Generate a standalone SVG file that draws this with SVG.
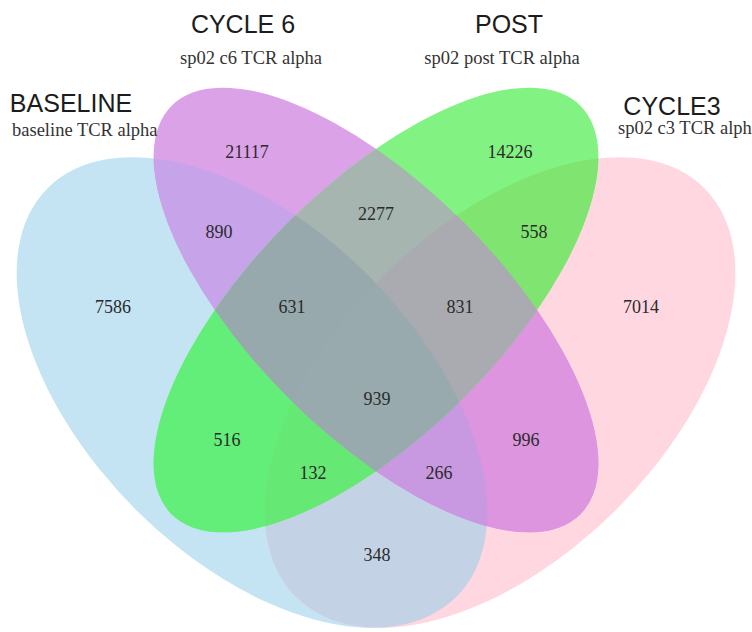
<svg xmlns="http://www.w3.org/2000/svg" xmlns:xlink="http://www.w3.org/1999/xlink" width="752" height="632" viewBox="0 0 752 632">
<style>
.num{font-family:"Liberation Serif","Times New Roman",serif;font-size:18px;fill:#2b2b2b;text-anchor:middle}
.title{font-family:"Liberation Sans",Arial,sans-serif;font-size:25px;fill:#1c1c1c;text-anchor:middle}
.sub{font-family:"Liberation Serif","Times New Roman",serif;font-size:18.5px;fill:#333}
</style>
<defs>
<ellipse id="eA" cx="252" cy="392.5" rx="289" ry="165" transform="rotate(45 252 392.5)"/>
<ellipse id="eB" cx="376" cy="310" rx="289" ry="124" transform="rotate(45 376 310)"/>
<ellipse id="eC" cx="376" cy="310" rx="289" ry="124" transform="rotate(-45 376 310)"/>
<ellipse id="eD" cx="500" cy="392.5" rx="289" ry="165" transform="rotate(-45 500 392.5)"/>
<clipPath id="cA"><use xlink:href="#eA"/></clipPath>
<clipPath id="cB"><use xlink:href="#eB"/></clipPath>
<clipPath id="cD"><use xlink:href="#eD"/></clipPath>
</defs>
<rect width="752" height="632" fill="#ffffff"/>
<g id="set-baseline">
<use xlink:href="#eA" fill="#C4E4F3"/>
</g>
<g id="set-cycle3">
<use xlink:href="#eD" fill="#FFD7E1"/>
<g clip-path="url(#cA)"><use xlink:href="#eD" fill="#C3D3E5"/></g>
</g>
<g id="set-cycle6">
<use xlink:href="#eB" fill="#DBA2E8"/>
<g clip-path="url(#cA)"><use xlink:href="#eB" fill="#C7A3EA"/></g>
<g clip-path="url(#cD)"><use xlink:href="#eB" fill="#DC95DE"/></g>
<g clip-path="url(#cA)"><g clip-path="url(#cD)"><use xlink:href="#eB" fill="#C898E0"/></g></g>
</g>
<g id="set-post">
<use xlink:href="#eC" fill="#82F282"/>
<g clip-path="url(#cA)"><use xlink:href="#eC" fill="#63EE7A"/></g>
<g clip-path="url(#cD)"><use xlink:href="#eC" fill="#7FE570"/></g>
<g clip-path="url(#cA)"><g clip-path="url(#cD)"><use xlink:href="#eC" fill="#66E874"/></g></g>
<g clip-path="url(#cB)"><use xlink:href="#eC" fill="#A6B5AF"/></g>
<g clip-path="url(#cB)"><g clip-path="url(#cA)"><use xlink:href="#eC" fill="#97A9AC"/></g></g>
<g clip-path="url(#cB)"><g clip-path="url(#cD)"><use xlink:href="#eC" fill="#AAABB0"/></g></g>
<g clip-path="url(#cB)"><g clip-path="url(#cA)"><g clip-path="url(#cD)"><use xlink:href="#eC" fill="#98AAAD"/></g></g></g>
</g>
<g id="titles">
<text class="title" x="71" y="112">BASELINE</text>
<text class="sub" x="12" y="136">baseline TCR alpha</text>
<text class="title" x="243" y="33">CYCLE 6</text>
<text class="sub" x="251" y="64" text-anchor="middle">sp02 c6 TCR alpha</text>
<text class="title" x="509" y="33">POST</text>
<text class="sub" x="502" y="64" text-anchor="middle">sp02 post TCR alpha</text>
<text class="title" x="672" y="115">CYCLE3</text>
<text class="sub" x="618" y="134">sp02 c3 TCR alpha</text>
</g>
<g id="counts">
<text class="num" x="247" y="158">21117</text>
<text class="num" x="510" y="158">14226</text>
<text class="num" x="219" y="238">890</text>
<text class="num" x="376" y="220">2277</text>
<text class="num" x="534" y="238">558</text>
<text class="num" x="113" y="313">7586</text>
<text class="num" x="292" y="313">631</text>
<text class="num" x="460" y="313">831</text>
<text class="num" x="641" y="313">7014</text>
<text class="num" x="377" y="405">939</text>
<text class="num" x="227" y="446">516</text>
<text class="num" x="526" y="446">996</text>
<text class="num" x="313" y="479">132</text>
<text class="num" x="439" y="479">266</text>
<text class="num" x="377" y="561">348</text>
</g>
</svg>
